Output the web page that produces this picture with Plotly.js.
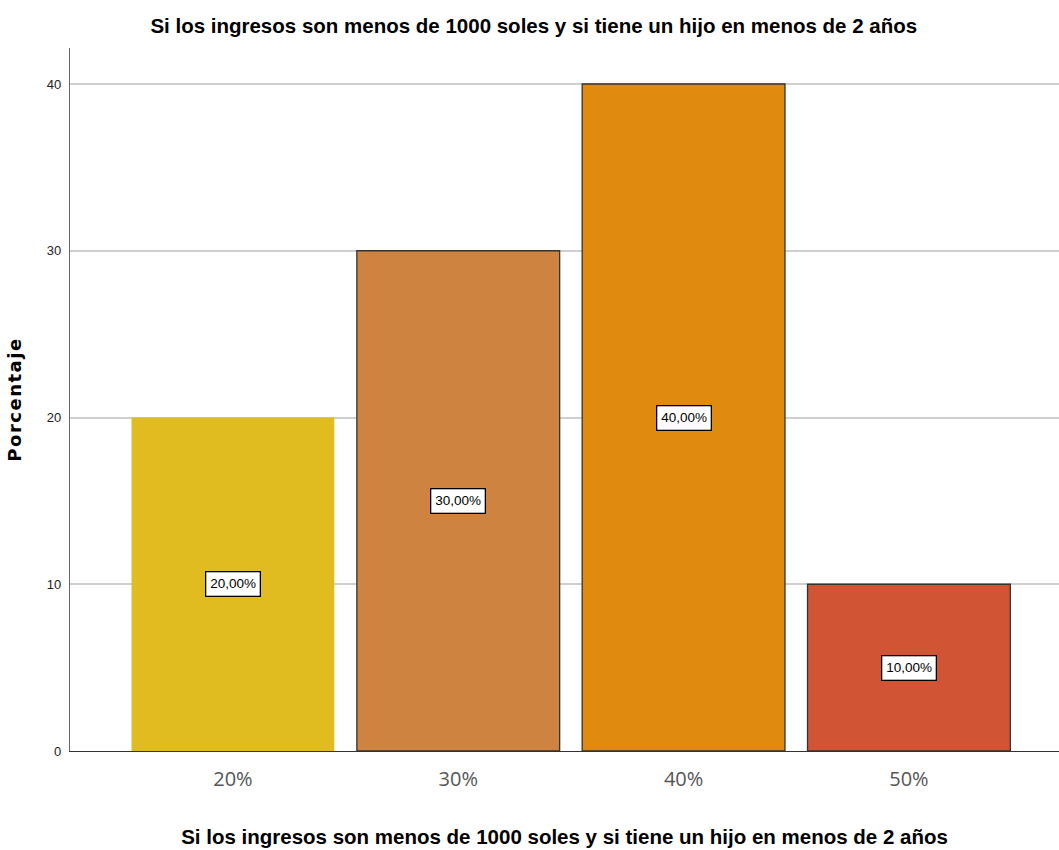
<!DOCTYPE html>
<html>
<head>
<meta charset="utf-8">
<script src="https://cdn.plot.ly/plotly-3.0.1.min.js"></script>
<style>html,body{margin:0;padding:0;background:#fff;}#chart{width:1059px;height:850px;}
.ytitle{letter-spacing:1.5px;}</style>
</head>
<body>
<div id="chart"></div>
<script>
const categories = ["20%", "30%", "40%", "50%"];
const values = [20, 30, 40, 10];
const labels = ["20,00%", "30,00%", "40,00%", "10,00%"];
const colors = ["rgb(224,188,32)", "rgb(206,132,64)", "rgb(224,138,16)", "rgb(209,84,52)"];
const outlines = ["rgba(0,0,0,0)", "#333333", "#333333", "#333333"];
const yTicks = [0, 10, 20, 30, 40];
const titleText = "Si los ingresos son menos de 1000 soles y si tiene un hijo en menos de 2 años";

const sans = "Liberation Sans, Arial, sans-serif";

const trace = {
  type: "bar",
  x: categories,
  y: values,
  width: 0.9,
  marker: {color: colors, line: {color: outlines, width: 1.3}},
  hoverinfo: "none"
};

const annotations = categories.map((c, i) => ({
  x: c, y: values[i] / 2, xref: "x", yref: "y",
  text: labels[i], showarrow: false,
  font: {family: sans, size: 13.5, color: "#000"},
  bgcolor: "#ffffff", bordercolor: "#000", borderwidth: 1.3, borderpad: 4
}));

const layout = {
  width: 1059, height: 850,
  margin: {l: 70, r: 0, t: 48, b: 99},
  paper_bgcolor: "#fff", plot_bgcolor: "#fff",
  title: {text: titleText, x: 0.504, xref: "container", y: 0.97, yanchor: "middle",
          font: {family: sans, size: 20.5, color: "#000", weight: "bold"}},
  showlegend: false,
  bargap: 0.1,
  xaxis: {
    type: "category",
    range: [-0.723, 3.666],
    showline: true, linecolor: "#333", linewidth: 1.3,
    ticks: "", showgrid: false, zeroline: false,
    ticklabelstandoff: 10,
    tickfont: {family: "Open Sans, sans-serif", size: 20, color: "#555"},
    title: {text: titleText, standoff: 38, font: {family: sans, size: 20.5, color: "#000", weight: "bold"}}
  },
  yaxis: {
    range: [0, 42.16],
    tickvals: yTicks, ticktext: yTicks.map(String),
    showline: true, linecolor: "#666", linewidth: 1.2,
    ticks: "", ticklabelstandoff: 5,
    showgrid: true, gridcolor: "#cfcfcf", gridwidth: 2,
    zeroline: false,
    tickfont: {family: sans, size: 13, color: "#222"},
    title: {text: "Porcentaje", standoff: 20, font: {family: "DejaVu Sans, sans-serif", size: 18, color: "#000", weight: "bold"}}
  },
  annotations: annotations
};

Plotly.newPlot("chart", [trace], layout, {displayModeBar: false, staticPlot: true});
</script>
</body>
</html>
